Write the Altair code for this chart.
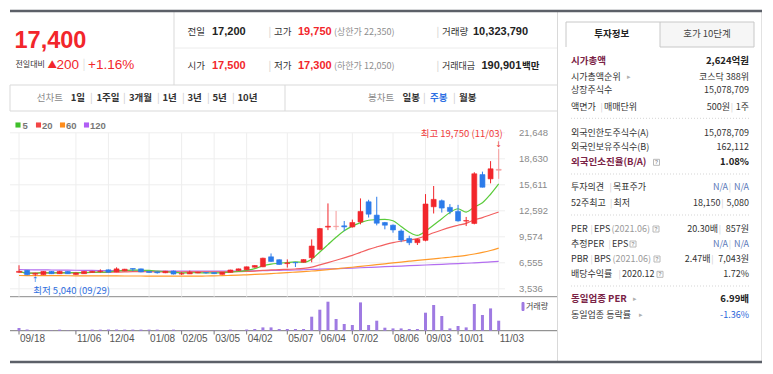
import altair as alt
import pandas as pd

# ------------------------------------------------------------------ data
week_idx = list(range(60))
opens = [5450, 5690, 5230, 5180, 5560, 5290, 5560, 5200, 5290, 5440,
         5540, 5740, 5500, 5620, 5890, 5850, 5560, 5500, 5400, 5600,
         5250, 5270, 5370, 5420, 5420, 5210, 5440, 5650, 5740, 6040,
         6090, 7250, 6910, 6460, 6600, 6620, 7140, 8110, 10700, 10750,
         10850, 10720, 11300, 13640, 12090, 11230, 10920, 10250, 9380, 8890,
         9160, 13060, 13760, 12990, 12520, 11400, 11120, 16800, 16300, 17300]
closes = [5560, 5170, 5330, 5560, 5290, 5560, 5290, 5380, 5560, 5560,
          5600, 5460, 5850, 5810, 5820, 5500, 5430, 5400, 5580, 5250,
          5300, 5450, 5450, 5390, 5300, 5450, 5720, 5850, 6090, 6240,
          7090, 6710, 6360, 6540, 6560, 6930, 8500, 10530, 10800, 10800,
          10720, 11230, 12520, 12200, 11150, 10920, 10370, 9200, 8890, 9280,
          13380, 13920, 12910, 12520, 11420, 11460, 16890, 15330, 17470, 17400]
highs = [6270, 5720, 5400, 5600, 5600, 5620, 5590, 5420, 5600, 5620,
         5800, 5780, 6030, 5850, 5900, 5880, 5580, 5520, 5620, 5650,
         5480, 5650, 5500, 5470, 5450, 5480, 5750, 5880, 6120, 6280,
         7150, 7640, 6950, 6950, 6620, 6970, 9270, 10600, 13450, 12580,
         11410, 11570, 14030, 13870, 14220, 11300, 11000, 10440, 9700, 9350,
         14530, 15470, 13900, 13370, 13280, 11880, 17070, 17140, 18360, 19750]
lows = [5380, 5120, 5040, 5150, 5250, 5260, 5260, 5150, 5270, 5400,
        5400, 5420, 5470, 5580, 5580, 5460, 5380, 5300, 5350, 5200,
        5150, 5250, 5340, 5300, 5280, 5190, 5420, 5620, 5720, 5990,
        6050, 6650, 6320, 6000, 6070, 6580, 6610, 8000, 10350, 10350,
        10240, 10640, 11020, 11810, 10900, 10440, 10050, 8950, 8600, 8620,
        9050, 12280, 12390, 12200, 11340, 10820, 11020, 15300, 15780, 16300]
volumes = [2700, 1200, 300, 300, 300, 1100, 300, 300, 300, 1100,
           1100, 1200, 1200, 1100, 1100, 1100, 1100, 1100, 300, 1100,
           300, 300, 300, 300, 300, 300, 1100, 300, 1200, 1700,
           3300, 3300, 1700, 1700, 1700, 1700, 14000, 21000, 29000, 11700,
           6700, 5700, 28300, 5700, 10000, 3000, 2300, 2300, 1700, 1700,
           18000, 25700, 14700, 2300, 4700, 3300, 26700, 15700, 22300, 10000]
ma60 = [5080, 5075, 5070, 5065, 5060, 5055, 5050, 5045, 5040, 5040,
        5035, 5030, 5030, 5025, 5020, 5020, 5015, 5010, 5010, 5000,
        5000, 5000, 5010, 5020, 5040, 5060, 5090, 5120, 5160, 5200,
        5250, 5300, 5360, 5420, 5480, 5540, 5600, 5680, 5770, 5860,
        5950, 6040, 6140, 6240, 6340, 6440, 6540, 6640, 6740, 6840,
        6930, 7020, 7110, 7200, 7300, 7420, 7580, 7760, 7980, 8250]
ma120 = [5760, 5750, 5740, 5730, 5720, 5710, 5700, 5690, 5680, 5670,
         5660, 5650, 5640, 5630, 5620, 5610, 5600, 5590, 5590, 5580,
         5580, 5580, 5580, 5580, 5590, 5590, 5600, 5610, 5620, 5630,
         5640, 5660, 5680, 5700, 5720, 5750, 5780, 5810, 5840, 5870,
         5900, 5940, 5980, 6020, 6060, 6100, 6140, 6180, 6220, 6260,
         6300, 6340, 6380, 6420, 6460, 6500, 6550, 6600, 6660, 6720]
light_weeks = [39, 59]
x_tick_idx = [0, 7, 11, 16, 20, 24, 28, 33, 37, 41, 46, 50, 54, 59]
x_tick_labels = ["09/18", "11/06", "12/04", "01/08", "02/05", "03/05", "04/02",
                 "05/07", "06/04", "07/02", "08/06", "09/03", "10/01", "11/03"]
price_ticks = [3536, 6555, 9574, 12592, 15611, 18630, 21648]
high_note = "최고 19,750 (11/03)"
low_note = "최저 5,040 (09/29)"
high_week, high_price = 59, 19750
low_week, low_price = 2, 5040

# ------------------------------------------------------------------ frames
df = pd.DataFrame({"idx": week_idx, "open": opens, "close": closes,
                   "high": highs, "low": lows, "vol": volumes,
                   "ma60": ma60, "ma120": ma120})
df["kind"] = ["light" if i in light_weeks else ("up" if c >= o else "down")
              for i, o, c in zip(week_idx, opens, closes)]

OFF = 8
KR = "Noto Sans CJK KR"
LS = "Liberation Sans"
RED = "#f2262b"
BLUE = "#2f6fe0"

xs = alt.Scale(domain=[0, 59], range=[14 - OFF, 503.7 - OFF], zero=False, nice=False)
ys = alt.Scale(domain=[3536, 21648], range=[288.8 - OFF, 132.8 - OFF], zero=False, nice=False)
vs = alt.Scale(domain=[0, 34000], range=[330.7 - OFF, 296.7 - OFF], zero=False, nice=False)
kind_scale = alt.Scale(domain=["up", "down", "light"], range=[RED, "#2b7bea", "#f59a9a"])

X = alt.X("idx:Q", scale=xs, axis=None)
base = alt.Chart(df)

# ---------------------------------------------------------- price panel
pt = pd.DataFrame({"v": price_ticks, "lab": [f"{v:,}" for v in price_ticks]})
xt = pd.DataFrame({"i": x_tick_idx, "lab": x_tick_labels})

hgrid = alt.Chart(pt).mark_rule(color="#eeeeee", strokeWidth=1).encode(
    y=alt.Y("v:Q", scale=ys, axis=None), x=alt.value(10 - OFF), x2=alt.value(505 - OFF))
vgrid = alt.Chart(xt).mark_rule(color="#eeeeee", strokeWidth=1).encode(
    x=alt.X("i:Q", scale=xs, axis=None), y=alt.value(132.8 - OFF), y2=alt.value(296.7 - OFF))
plabels = alt.Chart(pt).mark_text(align="left", baseline="middle", font=LS, fontSize=9.5,
                                  color="#8a8a8a").encode(
    y=alt.Y("v:Q", scale=ys, axis=None), x=alt.value(519 - OFF), text="lab:N")
xlabels = alt.Chart(xt).mark_text(align="left", baseline="middle", font=LS, fontSize=10,
                                  color="#555555", dx=1).encode(
    x=alt.X("i:Q", scale=xs, axis=None), y=alt.value(338.5 - OFF), text="lab:N")
xticks = alt.Chart(xt).mark_rule(color="#777777").encode(
    x=alt.X("i:Q", scale=xs, axis=None), y=alt.value(330.7 - OFF), y2=alt.value(334.5 - OFF))

def ma_line(field, color, computed=None):
    ch = base
    if computed:
        ch = ch.transform_window(**{field: "mean(close)"}, frame=[-(computed - 1), 0],
                                 sort=[alt.SortField(field="idx", order="ascending")])
    return ch.mark_line(color=color, strokeWidth=1.2, interpolate="monotone").encode(
        x=X, y=alt.Y(f"{field}:Q", scale=ys, axis=None))

l120 = ma_line("ma120", "#b36ef0")
l60 = ma_line("ma60", "#ff9a2a")
l20 = ma_line("ma20", "#f26060", computed=20)
l5 = ma_line("ma5", "#5acb3a", computed=5)

wick = base.mark_rule(strokeWidth=1).encode(
    x=X, y=alt.Y("low:Q", scale=ys, axis=None), y2="high:Q",
    color=alt.Color("kind:N", scale=kind_scale, legend=None))
body = base.mark_bar(size=5, strokeWidth=0.6).encode(
    x=X, y=alt.Y("open:Q", scale=ys, axis=None), y2="close:Q",
    color=alt.Color("kind:N", scale=kind_scale, legend=None),
    stroke=alt.Stroke("kind:N", scale=kind_scale, legend=None))

hi_df = pd.DataFrame({"idx": [high_week], "p": [high_price], "t": [high_note]})
lo_df = pd.DataFrame({"idx": [low_week], "p": [low_price], "t": [low_note]})
hi_txt = alt.Chart(hi_df).mark_text(align="right", baseline="middle", font=KR, fontSize=9.5,
                                    color="#f03a3a", dx=4, dy=-15).encode(
    x=alt.X("idx:Q", scale=xs, axis=None), y=alt.Y("p:Q", scale=ys, axis=None), text="t:N")
hi_arr = alt.Chart(hi_df).mark_text(align="center", baseline="bottom", font="DejaVu Sans",
                                    fontSize=8, color="#f03a3a", dy=0).encode(
    x=alt.X("idx:Q", scale=xs, axis=None), y=alt.Y("p:Q", scale=ys, axis=None), text=alt.value("↓"))
lo_txt = alt.Chart(lo_df).mark_text(align="left", baseline="middle", font=KR, fontSize=9.5,
                                    color=BLUE, dx=-2, dy=15.5).encode(
    x=alt.X("idx:Q", scale=xs, axis=None), y=alt.Y("p:Q", scale=ys, axis=None), text="t:N")
lo_arr = alt.Chart(lo_df).mark_text(align="center", baseline="top", font="DejaVu Sans",
                                    fontSize=7.5, color=BLUE, dy=0).encode(
    x=alt.X("idx:Q", scale=xs, axis=None), y=alt.Y("p:Q", scale=ys, axis=None), text=alt.value("↑"))

price_group = alt.layer(hgrid, vgrid, l120, l60, l20, l5, wick, body, plabels,
                        xlabels, xticks, hi_txt, hi_arr, lo_txt, lo_arr)

vol_group = alt.layer(
    base.mark_bar(size=3, color="#9f7ae2").encode(
        x=X, y=alt.Y("vol:Q", scale=vs, axis=None)))

# ---------------------------------------------------------- page furniture
def rules(rows, dash=None):
    d = pd.DataFrame(rows, columns=["x", "x2", "y", "y2", "c", "w"])
    for k in ["x", "x2", "y", "y2"]:
        d[k] = d[k] - OFF
    m = alt.Chart(d).mark_rule(strokeDash=dash) if dash else alt.Chart(d).mark_rule()
    return m.encode(x=alt.X("x:Q", scale=None, axis=None), x2="x2:Q",
                    y=alt.Y("y:Q", scale=None, axis=None), y2="y2:Q",
                    color=alt.Color("c:N", scale=None, legend=None),
                    strokeWidth=alt.StrokeWidth("w:Q", scale=None, legend=None))

def rects(rows):
    d = pd.DataFrame(rows, columns=["x", "x2", "y", "y2", "f", "s"])
    for k in ["x", "x2", "y", "y2"]:
        d[k] = d[k] - OFF
    return alt.Chart(d).mark_rect(strokeWidth=1).encode(
        x=alt.X("x:Q", scale=None, axis=None), x2="x2:Q",
        y=alt.Y("y:Q", scale=None, axis=None), y2="y2:Q",
        fill=alt.Fill("f:N", scale=None, legend=None),
        stroke=alt.Stroke("s:N", scale=None, legend=None))

def texts(rows, font, weight="normal", align="left"):
    d = pd.DataFrame(rows, columns=["x", "y", "t", "c", "s"])
    d["x"] = d["x"] - OFF
    d["y"] = d["y"] - OFF
    return alt.Chart(d).mark_text(font=font, fontWeight=weight, align=align,
                                  baseline="middle").encode(
        x=alt.X("x:Q", scale=None, axis=None), y=alt.Y("y:Q", scale=None, axis=None),
        text="t:N", color=alt.Color("c:N", scale=None, legend=None),
        size=alt.Size("s:Q", scale=None, legend=None))

GL = "#d9d9d9"
SEP = "#cccccc"
frame_lines = rules([
    (174, 174, 12, 85, GL, 1),
    (174, 557, 48, 48, "#ececec", 1),
    (10, 557, 85, 85, GL, 1),
    (10, 557, 111, 111, GL, 1),
    (10, 10, 85, 111, GL, 1),
    (285, 285, 85, 111, GL, 1),
    (557.5, 557.5, 12, 362, GL, 1),
    (761.5, 761.5, 12, 362, "#e2e2e2", 1),
    (10, 557, 296.7, 296.7, "#8a8a8a", 1),
    (10, 557, 330.7, 330.7, "#7a7a7a", 1),
    (10, 762, 11, 11, "#5c6068", 2.5),
    (10, 762, 362, 362, "#5c6068", 2.5),
    (566, 566, 22, 47, "#c8c8c8", 1),
    (566, 660, 22, 22, "#c8c8c8", 1),
])
dotted = rules([(571, 749, y, y, "#d5d5d5", 1) for y in (118.3, 174, 215, 286)], dash=[1, 2])
tab_rect = rects([(660, 754, 22, 47, "#f6f6f6", "#c8c8c8")])
QPOS = [(656.5, 162.3), (656, 229), (633, 244), (657, 259), (660, 274.3)]
qboxes = rects([(cx - 3, cx + 3, cy - 3, cy + 3, "#ffffff", "#b8b8b8") for cx, cy in QPOS])
qmarks = texts([(cx, cy, "?", "#999999", 5.5) for cx, cy in QPOS], LS, "bold", "center")
vol_key = rects([(522, 524, 302.5, 310.5, "#9f7ae2", "#9f7ae2")])

# legend squares
legend_sq = pd.DataFrame({"x": [18 - OFF, 38.5 - OFF, 62.5 - OFF, 86.5 - OFF],
                          "y": [125 - OFF] * 4,
                          "c": ["#3fbf2a", "#f24545", "#ff8c1a", "#b05ef5"]})
legend_marks = alt.Chart(legend_sq).mark_square(size=26, opacity=1).encode(
    x=alt.X("x:Q", scale=None, axis=None), y=alt.Y("y:Q", scale=None, axis=None),
    color=alt.Color("c:N", scale=None, legend=None))
legend_txt = texts([(22.5, 125.5, "5", "#777777", 9.5), (42, 125.5, "20", "#777777", 9.5),
                    (66, 125.5, "60", "#777777", 9.5), (90, 125.5, "120", "#777777", 9.5)],
                   LS, "bold")

# header texts
big = texts([(14.5, 41, "17,400", RED, 23.5)], LS, "bold")
hdr_ls_bold = texts([
    (212, 31.5, "17,200", "#222222", 11), (298, 31.5, "19,750", RED, 11),
    (473, 31.5, "10,323,790", "#222222", 11),
    (212, 65.5, "17,500", RED, 11), (298, 65.5, "17,300", RED, 11),
    (481.5, 65.5, "190,901", "#222222", 11),
], LS, "bold")
hdr_ls = texts([
    (56.5, 64.5, "200", RED, 13.5), (88, 64.5, "+1.16%", RED, 13.5),
], LS)
hdr_kr = texts([
    (15.5, 64.5, "전일대비", "#333333", 8), (47.5, 64.5, "▲", RED, 9.5),
    (82.5, 64.5, "|", "#dddddd", 11),
    (187.5, 31.5, "전일", "#333333", 9.5), (268.5, 31.5, "|", SEP, 10),
    (274, 31.5, "고가", "#333333", 9.5), (334, 31.5, "(상한가 22,350)", "#8e8e8e", 9),
    (436.5, 31.5, "|", SEP, 10), (442, 31.5, "거래량", "#333333", 9.5),
    (187.5, 65.5, "시가", "#333333", 9.5), (268.5, 65.5, "|", SEP, 10),
    (274, 65.5, "저가", "#333333", 9.5), (334, 65.5, "(하한가 12,050)", "#8e8e8e", 9),
    (436.5, 65.5, "|", SEP, 10), (442, 65.5, "거래대금", "#333333", 9),
    (36.8, 98.2, "선차트", "#8a8a8a", 9.5), (368, 98.2, "봉차트", "#8a8a8a", 9.5),
    (90, 98.2, "|", SEP, 10), (123, 98.2, "|", SEP, 10),
    (157, 98.2, "|", SEP, 10), (182, 98.2, "|", SEP, 10),
    (207, 98.2, "|", SEP, 10), (232, 98.2, "|", SEP, 10),
    (423, 98.2, "|", SEP, 10), (453, 98.2, "|", SEP, 10),
], KR)
hdr_kr_bold = texts([
    (522, 65.5, "백만", "#222222", 9.5),
    (70.7, 98.2, "1일", "#333333", 9.5), (96.4, 98.2, "1주일", "#333333", 9.5),
    (129, 98.2, "3개월", "#333333", 9.5), (162.5, 98.2, "1년", "#333333", 9.5),
    (187.5, 98.2, "3년", "#333333", 9.5), (212.5, 98.2, "5년", "#333333", 9.5),
    (237.5, 98.2, "10년", "#333333", 9.5),
    (402.5, 98.2, "일봉", "#333333", 9.5), (430, 98.2, "주봉", "#2d6fe3", 9.5),
    (459, 98.2, "월봉", "#333333", 9.5),
], KR, "bold")

# side panel
MAR = "#7a2346"
D = "#333333"
S = 9
side_lab = texts([
    (571, 77.3, "시가총액순위", D, S), (627, 77.3, "▸", "#b0b0b0", 7),
    (571, 90, "상장주식수", D, S),
    (571, 106.7, "액면가", D, S), (600.5, 106.7, "|", SEP, 8.5),
    (604, 106.7, "매매단위", D, S),
    (571, 132.7, "외국인한도주식수(A)", D, S),
    (571, 146.7, "외국인보유주식수(B)", D, S),
    (571, 186.7, "투자의견", D, S), (609.5, 186.7, "|", SEP, 8.5),
    (613, 186.7, "목표주가", D, S),
    (571, 203.3, "52주최고", D, S), (610, 203.3, "|", SEP, 8.5),
    (613.5, 203.3, "최저", D, S),
    (571, 229, "PER", D, S), (590.5, 229, "|", SEP, 8.5),
    (594, 229, "EPS", D, S), (611.5, 229, "(2021.06)", "#9a9a9a", S),
    (571, 244, "추정PER", D, S), (608.5, 244, "|", SEP, 8.5),
    (612, 244, "EPS", D, S),
    (571, 259, "PBR", D, S), (590.5, 259, "|", SEP, 8.5),
    (594, 259, "BPS", D, S), (612.5, 259, "(2021.06)", "#9a9a9a", S),
    (571, 274.3, "배당수익률", D, S), (618.5, 274.3, "|", SEP, 8.5),
    (622, 274.3, "2020.12", D, S),
    (571, 315, "동일업종 등락률", D, S), (639, 315, "▸", "#b0b0b0", 7),
    (633, 299.3, "▸", "#b0b0b0", 7),
], KR)
side_lab_bold = texts([
    (571, 61, "시가총액", MAR, 9.5), (571, 162.3, "외국인소진율(B/A)", MAR, 9.5),
    (571, 299.3, "동일업종 PER", MAR, 9.5),
], KR, "bold")
side_tab_b = texts([(611.7, 33.5, "투자정보", "#222222", 9.5)], KR, "bold", "center")
side_tab = texts([(707, 33.5, "호가 10단계", "#444444", 9.5)], KR, "normal", "center")
NA = "#5a78b8"
side_val = texts([
    (749, 77.3, "코스닥 388위", D, S),
    (749, 90, "15,078,709", D, S),
    (749, 106.7, "1주", D, S), (733, 106.7, "|", SEP, 8.5),
    (730, 106.7, "500원", D, S),
    (749, 132.7, "15,078,709", D, S),
    (749, 146.7, "162,112", D, S),
    (749, 186.7, "N/A", NA, S), (731, 186.7, "|", SEP, 8.5), (728, 186.7, "N/A", NA, S),
    (749, 203.3, "5,080", D, S), (723.5, 203.3, "|", SEP, 8.5),
    (720.5, 203.3, "18,150", D, S),
    (749, 229, "857원", D, S), (721, 229, "|", SEP, 8.5),
    (718, 229, "20.30배", D, S),
    (749, 244, "N/A", NA, S), (731, 244, "|", SEP, 8.5), (728, 244, "N/A", NA, S),
    (749, 259, "7,043원", D, S), (713.5, 259, "|", SEP, 8.5),
    (710.5, 259, "2.47배", D, S),
    (749, 274.3, "1.72%", D, S),
    (749, 315, "-1.36%", "#2a66d9", S),
], KR, "normal", "right")
side_val_b = texts([
    (749, 61, "2,624억원", "#222222", 9.5),
    (749, 162.3, "1.08%", "#222222", 9.5),
    (749, 299.3, "6.99배", "#222222", 9.5),
], KR, "bold", "right")
vol_lab = texts([(526, 306.7, "거래량", "#444444", 8)], KR)

chart = alt.layer(
    tab_rect, frame_lines, dotted, qboxes, qmarks, vol_key,
    price_group, vol_group,
    legend_marks, legend_txt, big, hdr_ls_bold, hdr_ls, hdr_kr, hdr_kr_bold,
    side_lab, side_lab_bold, side_tab_b, side_tab, side_val, side_val_b, vol_lab,
).resolve_scale(
    x="independent", y="independent", color="independent", stroke="independent",
    size="independent", fill="independent", strokeWidth="independent",
).properties(
    width=757, height=358, padding=0, background="white",
    autosize=alt.AutoSizeParams(type="none"),
).configure_view(strokeWidth=0)

chart.save("out.html", embed_options={"renderer": "svg", "actions": False})
